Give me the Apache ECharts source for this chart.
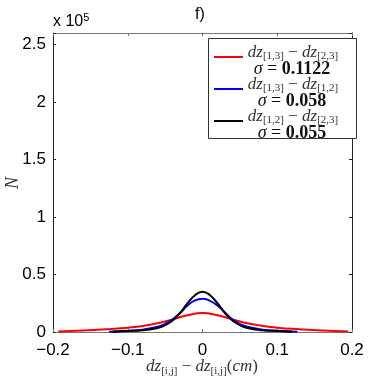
<!DOCTYPE html>
<html>
<head>
<meta charset="UTF-8">
<title>f)</title>
<script src="https://cdn.jsdelivr.net/npm/echarts@6/dist/echarts.min.js"></script>
<style>
  html, body { margin: 0; padding: 0; background: #fff; }
  #container { width: 390px; height: 382px; }
</style>
</head>
<body>
<div id="container"></div>
<script>
// data (N values, x in cm)
var redX   = [-0.193, -0.16, -0.13, -0.10, -0.08, -0.06, -0.04, -0.02, 0, 0.02, 0.04, 0.06, 0.08, 0.10, 0.13, 0.16, 0.195];
var redY   = [500, 1200, 2300, 3800, 5200, 7600, 11000, 14500, 16500, 14500, 11000, 7600, 5400, 3800, 2400, 1300, 500];
var blueX  = [-0.125, -0.10, -0.08, -0.06, -0.05, -0.04, -0.03, -0.02, -0.01, 0, 0.01, 0.02, 0.03, 0.04, 0.05, 0.06, 0.08, 0.10, 0.127];
var blueY  = [300, 1000, 2000, 4500, 7000, 11000, 16500, 23000, 27500, 29000, 27000, 23000, 17000, 11000, 7000, 4500, 2000, 1000, 300];
var blackX = [-0.12, -0.10, -0.08, -0.06, -0.05, -0.04, -0.03, -0.02, -0.01, 0, 0.01, 0.02, 0.03, 0.04, 0.05, 0.06, 0.08, 0.10, 0.12];
var blackY = [200, 800, 1500, 3500, 6000, 10000, 16500, 25000, 32000, 35000, 32000, 25000, 16500, 10000, 6000, 3500, 1500, 800, 200];

var legendPairs = [['1,3', '2,3'], ['1,3', '1,2'], ['1,2', '2,3']];
var sigmas = ['0.1122', '0.058', '0.055'];
var colors = ['#ff0000', '#0000ff', '#000000'];

function pairs(xs, ys) {
  return xs.map(function (x, i) { return [x, ys[i]]; });
}

var dom = document.getElementById('container');
var myChart = echarts.init(dom);

var sansFont = '"Liberation Sans", Arial, sans-serif';
var serifFont = '"Liberation Serif", "DejaVu Serif", serif';

function minus(v) {
  return String(v).replace('-', '\u2212');
}

// legend drawn by hand (subscripts)
var legendItems = [];
var boxX = 208, boxY = 38;
legendItems.push({
  type: 'rect', left: boxX, top: boxY, z: 10,
  shape: { width: 148, height: 100 },
  style: { fill: '#fff', stroke: '#333', lineWidth: 1 }
});
for (var i = 0; i < 3; i++) {
  var ly = 57 + i * 32;
  legendItems.push({
    type: 'line', z: 11,
    shape: { x1: 214, y1: ly, x2: 243, y2: ly },
    style: { stroke: colors[i], lineWidth: 2 }
  });
  legendItems.push({
    type: 'text', z: 11, x: 293, y: 53 + i * 32,
    style: {
      text: '{i|dz}{s|[' + legendPairs[i][0] + ']}{n| \u2212 }{i|dz}{s|[' + legendPairs[i][1] + ']}',
      align: 'center', verticalAlign: 'middle',
      rich: {
        i: { fontFamily: serifFont, fontStyle: 'italic', fontSize: 17, lineHeight: 18, fill: '#333' },
        n: { fontFamily: serifFont, fontSize: 17, lineHeight: 18, fill: '#333' },
        s: { fontFamily: serifFont, fontSize: 11, lineHeight: 11, verticalAlign: 'bottom', fill: '#333' }
      }
    }
  });
  legendItems.push({
    type: 'text', z: 11, x: 292, y: 69 + i * 32,
    style: {
      text: '{i|\u03c3}{n| = }{b|' + sigmas[i] + '}',
      align: 'center', verticalAlign: 'middle',
      rich: {
        i: { fontFamily: serifFont, fontStyle: 'italic', fontSize: 18, fill: '#111' },
        n: { fontFamily: serifFont, fontSize: 18, fill: '#111' },
        b: { fontFamily: serifFont, fontWeight: 'bold', fontSize: 18, fill: '#111' }
      }
    }
  });
}

var option = {
  animation: false,
  grid: { left: 53, right: 38, top: 33, bottom: 50 },
  xAxis: [{
    type: 'value', min: -0.2, max: 0.2, interval: 0.1,
    axisLine: { onZero: false, lineStyle: { color: '#777', width: 1 } },
    axisTick: { inside: true, length: 3, lineStyle: { color: '#777' } },
    splitLine: { show: false },
    axisLabel: {
      color: '#000', fontFamily: sansFont, fontSize: 17, margin: 10,
      formatter: function (v) { return minus(Math.round(v * 10) / 10); }
    }
  }, {
    type: 'value', min: -0.2, max: 0.2, interval: 0.1, position: 'top',
    axisLine: { onZero: false, lineStyle: { color: '#777', width: 1 } },
    axisTick: { inside: true, length: 3, lineStyle: { color: '#777' } },
    splitLine: { show: false }, axisLabel: { show: false }
  }],
  yAxis: [{
    type: 'value', min: 0, max: 260000, interval: 50000, position: 'left',
    axisLine: { show: true, onZero: false, lineStyle: { color: '#222', width: 1 } },
    axisTick: { show: true, inside: true, length: 3, lineStyle: { color: '#222' } },
    splitLine: { show: false },
    axisLabel: {
      color: '#000', fontFamily: sansFont, fontSize: 17, margin: 7,
      formatter: function (v) { return v % 50000 === 0 ? String(v / 100000) : ''; }
    }
  }, {
    type: 'value', min: 0, max: 260000, interval: 50000, position: 'right',
    axisLine: { show: true, onZero: false, lineStyle: { color: '#222', width: 1 } },
    axisTick: { show: true, inside: true, length: 3, lineStyle: { color: '#222' } },
    splitLine: { show: false }, axisLabel: { show: false }
  }],
  series: [
    { type: 'line', data: pairs(redX, redY), smooth: true, showSymbol: false,
      lineStyle: { color: colors[0], width: 2 }, itemStyle: { color: colors[0] } },
    { type: 'line', data: pairs(blueX, blueY), smooth: true, showSymbol: false,
      lineStyle: { color: colors[1], width: 2 }, itemStyle: { color: colors[1] } },
    { type: 'line', data: pairs(blackX, blackY), smooth: true, showSymbol: false,
      lineStyle: { color: colors[2], width: 2 }, itemStyle: { color: colors[2] } }
  ],
  graphic: [
    { type: 'text', x: 200, y: 15,
      style: { text: 'f)', fontFamily: sansFont, fontSize: 16, fill: '#000', align: 'center', verticalAlign: 'middle' } },
    { type: 'text', x: 53, y: 22,
      style: {
        text: '{a|x 10}{b|5}', verticalAlign: 'middle',
        rich: {
          a: { fontFamily: sansFont, fontSize: 16, lineHeight: 20, fill: '#000' },
          b: { fontFamily: sansFont, fontSize: 11, lineHeight: 11, verticalAlign: 'top', fill: '#000' }
        }
      } },
    { type: 'text', x: 13, y: 183, rotation: Math.PI / 2,
      style: { text: 'N', fontFamily: serifFont, fontStyle: 'italic', fontSize: 18, fill: '#333', align: 'center', verticalAlign: 'middle' } },
    { type: 'text', x: 202, y: 367,
      style: {
        text: '{i|dz}{s|[i,j]}{n| \u2212 }{i|dz}{s|[i,j]}{n|(}{i|cm}{n|)}',
        align: 'center', verticalAlign: 'middle',
        rich: {
          i: { fontFamily: serifFont, fontStyle: 'italic', fontSize: 17, lineHeight: 19, fill: '#333' },
          n: { fontFamily: serifFont, fontSize: 17, lineHeight: 19, fill: '#333' },
          s: { fontFamily: serifFont, fontSize: 11, lineHeight: 11, verticalAlign: 'bottom', fill: '#333' }
        }
      } }
  ].concat(legendItems)
};

myChart.setOption(option);
</script>
</body>
</html>
